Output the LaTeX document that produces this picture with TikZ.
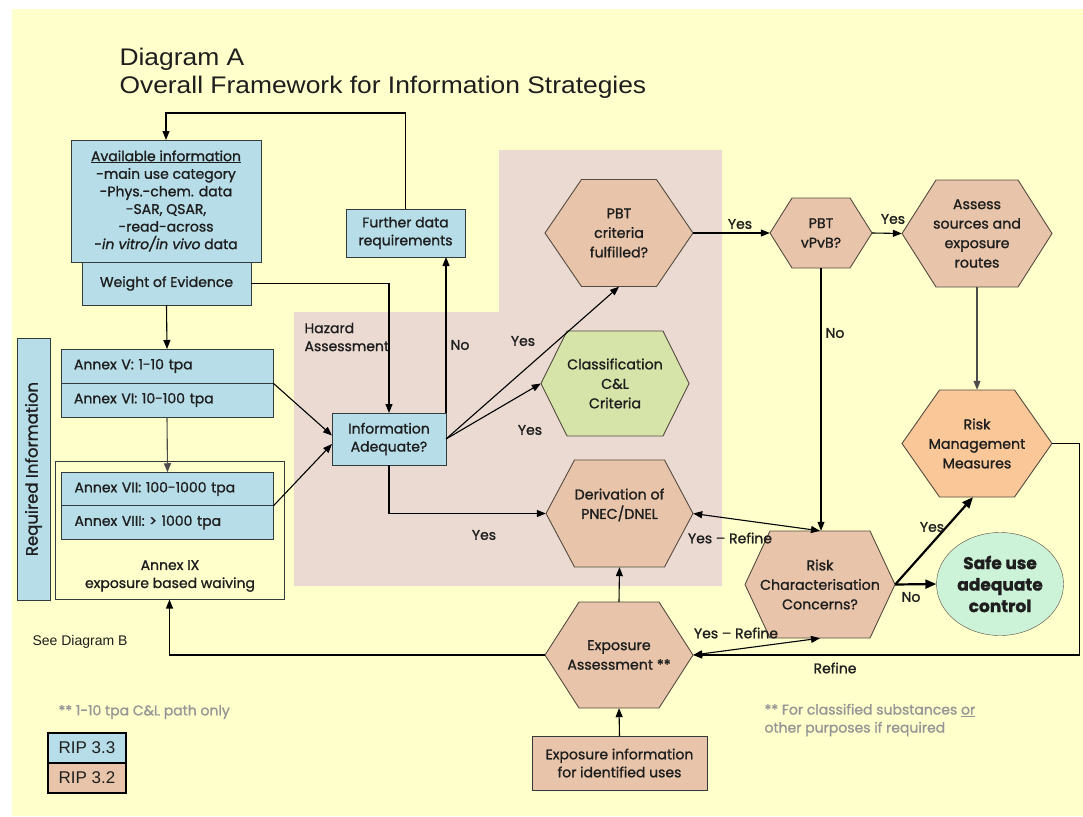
\documentclass[tikz,border=0pt]{standalone}
\usepackage{fontspec}
\setmainfont{Poppins}[FakeBold=1.2]
\newfontfamily\arialfont{Liberation Sans}
\newfontfamily\titlefont{Liberation Sans}[FakeStretch=1.1]
\usetikzlibrary{arrows.meta,positioning,shapes.geometric}

\definecolor{bgyellow}{RGB}{255,255,204}
\definecolor{hazard}{RGB}{234,218,210}
\definecolor{rip33}{RGB}{183,221,232}
\definecolor{rip32}{RGB}{232,197,170}
\definecolor{rmmorange}{RGB}{249,199,152}
\definecolor{clgreen}{RGB}{214,228,170}
\definecolor{safegreen}{RGB}{204,242,215}
\definecolor{hexborder}{RGB}{85,75,65}
\definecolor{boxline}{RGB}{50,60,60}
\definecolor{textcol}{RGB}{30,30,30}
\definecolor{notegray}{RGB}{150,150,150}

% name, cx, cy, half width, half top edge, half height, fill, text
\newcommand{\hexnode}[8]{%
  \filldraw[hexline,fill=#7] (#2-#4,#3) -- (#2-#5,#3-#6) -- (#2+#5,#3-#6) -- (#2+#4,#3)
    -- (#2+#5,#3+#6) -- (#2-#5,#3+#6) -- cycle;
  \node[hextext,minimum width={2*#4},minimum height={2*#6}] (#1) at (#2,#3) {#8};}

\begin{document}
\begin{tikzpicture}[x=1pt,y=-1pt]
	\tikzstyle{every node}=[font=\fontsize{14}{18}\selectfont,text=textcol]
	\tikzstyle{box}=[draw=boxline,fill=rip33,line width=1pt,inner sep=0pt,outer sep=0pt,align=center]
	\tikzstyle{annex}=[box,minimum width=212,minimum height=34,text width=186,inner xsep=13pt,align=left]
	\tikzstyle{hexline}=[draw=hexborder,line width=0.9pt]
	\tikzstyle{hextext}=[inner sep=0pt,align=center,font=\fontsize{14.2}{19.5}\selectfont]
	\tikzstyle{link}=[line width=1.1pt,-{Triangle[length=9pt,width=7pt]}]
	\tikzstyle{dlink}=[line width=1.1pt,{Triangle[length=9pt,width=7pt]}-{Triangle[length=9pt,width=7pt]}]
	\tikzstyle{thick link}=[line width=2.2pt,-{Triangle[length=11pt,width=9pt]}]
	\tikzstyle{note}=[text=notegray,align=left,anchor=west]
	
	\useasboundingbox (0,0) rectangle (1083,816);
	\fill[white] (0,0) rectangle (1083,816);
	\fill[bgyellow] (12,9) rectangle (1083,816);
	\fill[hazard] (294,312) -- (499,312) -- (499,150) -- (722,150) -- (722,586) -- (294,586) -- cycle;
	
	\node[anchor=base west,font=\titlefont\fontsize{24}{28}\selectfont] (title) at (116,65) {Diagram A};
	\node[anchor=base west,font=\titlefont\fontsize{24}{28}\selectfont] (subtitle) at (116,93) {Overall Framework for Information Strategies};
	
	\node[box,minimum width=169,minimum height=43] (woe) at (166.5,283.5) {Weight of Evidence};
	\node[box,minimum width=190,minimum height=122,font=\fontsize{14}{17.6}\selectfont] (avail) at (166,201)
	{\underline{Available information}\\-main use category\\-Phys.-chem. data\\-SAR, QSAR,\\-read-across\\-\textit{in vitro/in vivo} data};
	\node[box,minimum width=119,minimum height=48] (fdr) at (405.5,233) {Further data\\requirements};
	\node[box,minimum width=114,minimum height=52] (info) at (389,439) {Information\\Adequate?};
	
	\node[box,rotate=90,minimum width=262,minimum height=33,font=\fontsize{16.5}{18}\selectfont] (reqinfo) at (33.5,469) {Required Information};
	\node[draw=boxline,line width=1pt,minimum width=229,minimum height=138] (anxIX) at (169.5,530) {};
	\node[align=center] (anxIXtxt) at (170,576) {Annex IX\\exposure based waiving};
	\node[annex] (anxV) at (167,366) {Annex V: 1-10 tpa};
	\node[annex,below=0pt of anxV] (anxVI) {Annex VI: 10-100 tpa};
	\node[annex,minimum height=33.5] (anxVII) at (167.5,489) {Annex VII: 100-1000 tpa};
	\node[annex,minimum height=33.5,below=0pt of anxVII] (anxVIII) {Annex VIII: > 1000 tpa};
	
	\hexnode{pbt}{619}{233}{74}{37.5}{53.5}{rip32}{PBT\\criteria\\fulfilled?}
	\hexnode{clc}{615}{383.5}{74}{48}{52.5}{clgreen}{Classification\\C\&L\\Criteria}
	\hexnode{vpvb}{821}{233}{51}{29}{35}{rip32}{PBT\\vPvB?}
	\hexnode{assess}{977}{233.5}{75}{41}{53.5}{rip32}{Assess\\sources and\\exposure\\routes}
	\hexnode{rmm}{977}{443.5}{75}{37.5}{53.5}{rmmorange}{Risk\\Management\\Measures}
	\hexnode{deriv}{619.5}{513.5}{73.5}{45}{53.5}{rip32}{Derivation of\\PNEC/DNEL\\\mbox{}}
	\hexnode{expo}{619}{655}{74}{40}{53}{rip32}{Exposure\\Assessment **}
	\hexnode{riskc}{820}{584.5}{75}{50}{53.5}{rip32}{Risk\\Characterisation\\Concerns?}
	
	\node[draw=hexborder,fill=safegreen,ellipse,minimum width=127,minimum height=103,inner sep=0pt,align=center,
	font=\bfseries\fontsize{17}{21.5}\selectfont] (safe) at (1000,584) {Safe use\\adequate\\control};
	\node[box,fill=rip32,minimum width=175,minimum height=54] (expinfo) at (619.5,763) {Exposure information\\for identified uses};
	
	% connectors
	\draw[link] (fdr.north) -- ++(0,-96) -| (avail.north);
	\draw[link] (woe.east) -| (info.north);
	\draw[link] (info.north east) -- (info.north east |- fdr.south);
	\draw[link] (info.east) -- (pbt.south);
	\draw[link] (info.east) -- (clc.west);
	\draw[link] (info.south) |- (deriv.west);
	\draw[link] (woe.south) -- (anxV.north);
	\draw[link,draw=black!70] (anxVI.south) -- (anxVII.north);
	\draw[link] (anxV.south east) -- ([yshift=3.5pt]info.west);
	\draw[link] (anxVII.south east) -- ([yshift=-5pt]info.west);
	\draw[link] (pbt.east) -- (vpvb.west);
	\draw[link] (vpvb.east) -- (assess.west);
	\draw[link] (vpvb.south) -- (vpvb.south |- riskc.north);
	\draw[link,draw=black!70] (assess.south) -- (rmm.north);
	\draw[link] (rmm.east) -- ++(27,0) |- (expo.east);
	\draw[thick link] (riskc.east) -- ([xshift=-4pt]rmm.south);
	\draw[thick link] (riskc.east) -- (safe.west);
	\draw[dlink] (deriv.east) -- (riskc.north);
	\draw[dlink] (expo.east) -- (riskc.south);
	\draw[link] (expo.north) -- (deriv.south);
	\draw[link] (expinfo.north) -- (expo.south);
	\draw[link] (expo.west) -| (anxIX.south);
	
	% labels
	\node[align=left,anchor=west] (hazlbl) at (301,337) {Hazard\\Assessment};
	\node (nofdr) at (460,345) {No};
	\node (yespbt) at (523,341) {Yes};
	\node (yesclc) at (530,430) {Yes};
	\node (yesderiv) at (484,535) {Yes};
	\node (yesvpvb) at (740,224) {Yes};
	\node (yesassess) at (893,219) {Yes};
	\node (novpvb) at (835,333) {No};
	\node (yesref1) at (730,538) {Yes -- Refine};
	\node (yesref2) at (736,633) {Yes -- Refine};
	\node (yesrmm) at (932,527) {Yes};
	\node (nosafe) at (911,597) {No};
	\node (refine) at (835,668) {Refine};
	\node[font=\arialfont\fontsize{14}{16}\selectfont] (seeB) at (80,642) {See Diagram B};
	\node[note] (note1) at (55,712) {** 1-10 tpa C\&L path only};
	\node[note] (note2) at (761,720) {** For classified substances \underline{or}\\other purposes if required};
	
	% legend
	\node[box,draw=black,line width=1.3pt,minimum width=78,minimum height=30,font=\arialfont\fontsize{17}{20}\selectfont] (leg33) at (87,748) {RIP 3.3};
	\node[box,draw=black,line width=1.3pt,fill=rip32,minimum width=78,minimum height=30,font=\arialfont\fontsize{17}{20}\selectfont] (leg32) at (87,778) {RIP 3.2};
\end{tikzpicture}
\end{document}
